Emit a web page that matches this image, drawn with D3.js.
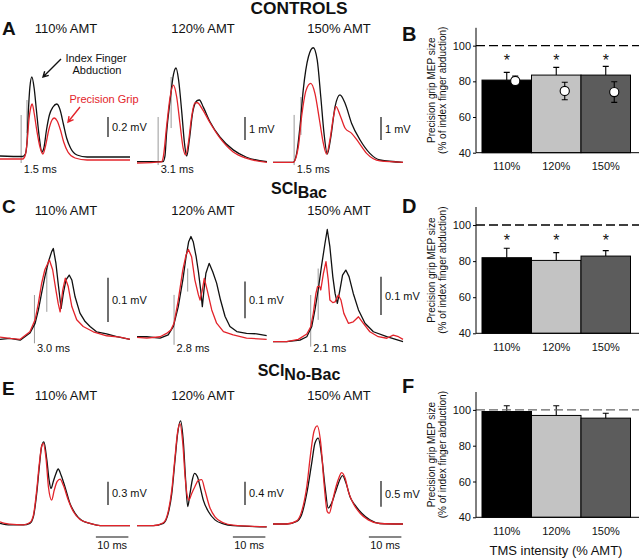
<!DOCTYPE html>
<html><head><meta charset="utf-8">
<script src="https://cdn.jsdelivr.net/npm/d3@7"></script>
<style>
body{margin:0;background:#fff}
svg{display:block}
text{font-family:"Liberation Sans",Arial,sans-serif;fill:#111}
</style>
</head><body><svg id="c" width="640" height="559"></svg>
<script>
// ---------------- DATA ----------------
const intensities = ["110%", "120%", "150%"];
const amtLabels = ["110% AMT", "120% AMT", "150% AMT"];
const groupTitles = [["CONTROLS", ""], ["SCI", "Bac"], ["SCI", "No-Bac"]];
const traceLetters = ["A", "C", "E"];
const barLetters = ["B", "D", "F"];
const scaleBarMV = [[0.2, 1, 1], [0.1, 0.1, 0.1], [0.3, 0.4, 0.5]];
const latencyLabels = [["1.5 ms", "3.1 ms", "1.5 ms"], ["3.0 ms", "2.8 ms", "2.1 ms"], null];
const timeBarMs = 10;
const yTicks = [40, 60, 80, 100];
const yLabel1 = "Precision grip MEP size";
const yLabel2 = "(% of index finger abduction)";
const xTitle = "TMS intensity (% AMT)";

// bar charts (% of index finger abduction)
const ctrlBars = [80.7, 83.5, 83.5], ctrlBarErr = [4.3, 4.3, 4.9];
const ctrlPoints = [80.2, 74.6, 74.0], ctrlPointErr = [2.7, 4.9, 5.8];
const bacBars = [81.9, 80.4, 82.8], bacBarErr = [5.2, 4.3, 3.0];
const noBacBars = [99.1, 96.9, 95.4], noBacBarErr = [3.2, 5.4, 2.7];
const significant = [[1, 1, 1], [1, 1, 1], [0, 0, 0]];

// MEP traces: [time ms, amplitude mV]
const ctrl110Index = [[0,.04],[7,.035],[7.8,.06],[8.3,.17],[8.7,.47],[9.2,.73],[9.8,.83],[10.5,.72],[11.2,.5],[12,.25],[12.9,.08],[13.5,.12],[14.3,.3],[15.2,.45],[16.3,.53],[17.5,.56],[18.5,.5],[19.5,.36],[20.5,.22],[21.7,.12],[23.7,.05],[26.8,.03],[40,.03]];
const ctrl110Grip = [[0,.01],[7,.01],[7.8,.05],[8.4,.2],[8.9,.4],[9.5,.53],[9.9,.56],[10.5,.47],[11.3,.3],[12.3,.13],[13.2,.06],[14,.14],[15,.3],[16,.4],[16.7,.42],[17.6,.39],[18.6,.3],[19.6,.18],[20.9,.08],[23.1,.02],[26.8,0],[40,0]];
const ctrl120Index = [[0,.06],[8,.06],[8.6,.3],[9.1,1.3],[10.2,2.74],[11.2,3.83],[12,4.13],[12.8,3.61],[13.8,2.17],[14.6,.87],[15.3,.3],[16.1,1],[17.1,2.17],[18.4,2.7],[19.2,2.74],[20.4,2.43],[22.5,1.78],[25.5,1.13],[29.6,.57],[33.7,.25],[40,.06]];
const ctrl120Grip = [[0,0],[7.5,.05],[8.1,.27],[9.1,1.58],[10.2,2.88],[11.2,3.39],[12.2,2.88],[13.2,1.74],[14.2,.65],[15,.35],[15.8,.87],[16.8,2],[17.8,2.61],[18.6,2.62],[19.9,2.39],[22.5,1.74],[25.5,1.09],[29.5,.49],[33.8,.2],[40,.03]];
const ctrl150Index = [[0,.03],[6.2,.03],[7.3,.43],[8.3,1.58],[9.3,3.17],[10.9,4.62],[12.4,5.01],[13.6,4.48],[14.7,2.88],[15.7,1.29],[16.7,.39],[17.8,1.14],[19.1,2.45],[20.6,2.96],[22.2,2.59],[24.2,1.72],[26.8,1],[29.8,.42],[32.9,.13],[40,.03]];
const ctrl150Grip = [[0,.03],[6.2,.03],[7.8,.71],[8.8,2.01],[10.2,3.17],[11.6,3.46],[12.9,3.03],[14.3,1.87],[15.5,.85],[16.5,.39],[17.5,.99],[18.6,2.01],[19.4,2.45],[20.6,2.09],[22.2,1.51],[24.2,1.29],[26.2,.93],[28.8,.42],[32.9,.09],[40,.03]];

const bac110Index = [[0,0],[3.1,.002],[6.2,-.002],[9.2,.014],[10.8,.036],[11.8,.066],[12.8,.104],[13.8,.141],[14.9,.175],[15.9,.198],[16.4,.205],[17.2,.172],[17.9,.126],[18.8,.07],[19.5,.104],[20.3,.134],[21.3,.145],[22.1,.134],[23.1,.096],[24.6,.059],[26.2,.04],[27.7,.029],[29.7,.017],[32.8,.012],[35.9,.006],[40,0]];
const bac110Grip = [[0,.005],[3.1,.002],[6.2,0],[9.2,.017],[10.8,.044],[11.8,.081],[12.8,.126],[13.8,.157],[15.2,.179],[16.2,.157],[17.2,.111],[17.9,.081],[18.5,.062],[19.3,.111],[20.1,.138],[21,.119],[22.1,.074],[23.6,.044],[25.6,.029],[28.7,.017],[32.8,.008],[36.9,.005],[40,0]];
const bac120Index = [[0,.007],[3,.007],[7.1,.003],[9.6,.012],[11.2,.035],[12.7,.089],[14.1,.162],[15.1,.225],[15.9,.266],[16.6,.28],[17.3,.266],[18.2,.225],[18.9,.184],[19.6,.134],[20.1,.089],[20.6,.134],[21.2,.18],[22.2,.207],[23.3,.184],[24.5,.153],[25.7,.107],[27.1,.062],[28.6,.035],[30.7,.021],[33.7,.016],[36.8,.015],[39.9,.01]];
const bac120Grip = [[0,.005],[3,.003],[7.1,.007],[9.1,.016],[10.4,.025],[11.4,.044],[12.7,.107],[14.1,.189],[15.1,.23],[15.8,.245],[16.8,.225],[17.8,.162],[18.9,.121],[19.4,.107],[20.1,.134],[20.7,.166],[21.6,.134],[23,.08],[24.5,.044],[26.6,.021],[29.6,.012],[33.7,.003],[39.9,0]];
const bac150Index = [[0,0],[4.2,0],[8.3,.004],[10.4,.013],[11.9,.039],[12.9,.083],[13.9,.135],[14.9,.196],[16,.257],[16.7,.293],[17.5,.248],[18.4,.17],[19.1,.126],[19.8,.1],[20.6,.135],[21.4,.174],[22.4,.187],[23.4,.17],[24.7,.126],[26.3,.083],[28.3,.048],[30.9,.026],[35,.013],[40,0]];
const bac150Grip = [[0,0],[4.2,0],[7.8,.006],[10.4,.02],[11.6,.039],[12.4,.074],[13.2,.126],[13.7,.144],[14.3,.145],[14.7,.135],[15.5,.178],[16.3,.209],[17,.161],[17.5,.109],[18.4,.102],[19.1,.104],[20.1,.122],[20.9,.109],[21.8,.074],[23.2,.048],[24.7,.052],[26.3,.065],[27.8,.048],[29.8,.026],[32.4,.013],[35,.009],[37,.017],[38.6,.013],[40,.006]];

const noBac110Index = [[0,.03],[3.1,.01],[7.2,.01],[9.2,.03],[10.3,.12],[11.3,.42],[12.1,.76],[12.8,1.02],[13.5,1.08],[14.4,.85],[15.1,.59],[15.7,.48],[16.4,.57],[17.2,.67],[17.9,.73],[18.8,.65],[20,.5],[21.5,.29],[23.1,.16],[25.1,.07],[27.7,.03],[30.8,0],[40,0]];
const noBac110Grip = [[0,.05],[1.5,.03],[3.1,.02],[7.2,.01],[9.2,.04],[10.3,.14],[11.3,.46],[12.1,.8],[12.8,1.02],[13.3,1.06],[14.2,.85],[14.9,.5],[15.9,.33],[16.7,.46],[17.6,.57],[18.5,.6],[19.5,.52],[21,.33],[22.6,.18],[24.6,.08],[27.7,.03],[30.8,0],[40,0]];
const noBac120Index = [[0,0],[5,0],[8.1,.04],[9.6,.21],[10.7,.55],[11.7,1.13],[12.5,1.58],[13.4,1.8],[14.3,1.41],[14.9,.84],[15.6,.33],[16.3,.55],[17,.78],[17.7,.9],[18.6,.84],[19.4,.67],[20.4,.44],[22,.24],[24,.1],[26.6,.03],[29.6,0],[39.9,-.02]];
const noBac120Grip = [[0,0],[5,0],[8.1,.05],[9.6,.24],[10.7,.61],[11.7,1.18],[12.5,1.61],[13.2,1.75],[14.1,1.41],[14.8,.84],[15.5,.5],[16,.44],[16.8,.55],[17.8,.67],[18.9,.78],[19.9,.79],[20.9,.61],[22.3,.33],[24,.15],[26.6,.05],[29.6,.01],[39.9,-.02]];
const noBac150Index = [[0,0],[4.2,0],[7.3,.05],[8.8,.18],[10.4,.6],[11.9,1.18],[12.9,1.57],[13.9,1.67],[15,1.31],[16,.73],[17,.31],[18,.4],[19.1,.6],[20.1,.79],[21.4,.94],[22.5,.79],[23.7,.53],[25.2,.37],[27.3,.21],[29.8,.08],[32.9,.01],[40,0]];
const noBac150Grip = [[0,0],[4.2,0],[7.3,.06],[8.8,.24],[10.4,.73],[11.6,1.38],[12.6,1.8],[13.6,1.91],[14.7,1.57],[15.7,.79],[16.7,.24],[17.3,.21],[18.4,.47],[19.4,.73],[20.4,.92],[21.1,1],[22.2,.89],[23.2,.63],[24.7,.4],[26.8,.21],[29.3,.08],[32.9,.01],[40,0]];

// latency markers: [time ms, top mV, bottom mV]
const ctrlMarkers = [[[6.5,.45,-.03],[8.3,.6,.27]], [[6.5,2.0,-.09],[10.5,3.74,1.52]], [[6.5,2.09,-.09],[8.6,2.87,1.22]]];
const bacMarkers = [[[10.6,.1,-.009],[14.4,.16,.062]], [[11.4,.121,-.015],[15.6,.193,.13]], [[11.6,.122,-.013],[13.9,.191,.057]]];

// ---------------- LAYOUT ----------------
const svg = d3.select("#c");
const RED = "#e3242b";
const colX0 = [0, 137, 273], colW = 130, tDomain = [0, 40];
const rowsLayout = [
  {baseline:[160,163,163], barPx:[20,23,23], barBottom:[137,140,140], amtY:33, latY:173, letterY:35, titleY:13.5},
  {baseline:[339.3,339.3,341.7], barPx:[44.3,36.7,38.3], barBottom:[322,318.3,315], amtY:215, latY:352, letterY:213, titleY:193.5},
  {baseline:[525.7,525.7,524], barPx:[23.3,23.3,25.7], barBottom:[505,505,506.7], amtY:400, latY:null, letterY:395, titleY:375.5}
];
const traceData = [
  [[ctrl110Index, ctrl110Grip], [ctrl120Index, ctrl120Grip], [ctrl150Index, ctrl150Grip]],
  [[bac110Index, bac110Grip], [bac120Index, bac120Grip], [bac150Index, bac150Grip]],
  [[noBac110Index, noBac110Grip], [noBac120Index, noBac120Grip], [noBac150Index, noBac150Grip]]
];
const markerData = [ctrlMarkers, bacMarkers, null];

traceData.forEach((row, r) => {
  const L = rowsLayout[r];
  // panel letter
  svg.append("text").attr("x", 2).attr("y", L.letterY).attr("font-size", 19).attr("font-weight", "bold").text(traceLetters[r]);
  // group title
  const tt = svg.append("text").attr("x", 299).attr("y", L.titleY).attr("text-anchor", "middle")
    .attr("font-size", 16).attr("font-weight", "bold");
  tt.append("tspan").text(groupTitles[r][0]);
  if (groupTitles[r][1]) tt.append("tspan").attr("dy", 4).text(groupTitles[r][1]);
  if (r === 0) tt.attr("textLength", 97).attr("lengthAdjust", "spacingAndGlyphs");

  row.forEach((pair, c) => {
    const x = d3.scaleLinear().domain(tDomain).range([colX0[c], colX0[c] + colW]);
    const base = L.baseline[c];
    const y = d3.scaleLinear().domain([0, scaleBarMV[r][c]]).range([base, base - L.barPx[c]]);
    // AMT label
    svg.append("text").attr("x", colX0[c] + 66).attr("y", L.amtY).attr("text-anchor", "middle")
      .attr("font-size", 13).text(amtLabels[c]);
    // markers
    if (markerData[r]) {
      markerData[r][c].forEach(m => {
        svg.append("line").attr("x1", x(m[0])).attr("x2", x(m[0])).attr("y1", y(m[1])).attr("y2", y(m[2]))
          .attr("stroke", "#9a9a9a").attr("stroke-width", 1);
      });
      svg.append("text").attr("x", x(markerData[r][c][0][0]) + 2.5).attr("y", L.latY)
        .attr("font-size", 11).text(latencyLabels[r][c]);
    }
    const line = d3.line().x(d => x(d[0])).y(d => y(d[1]))
      .curve(r === 1 ? d3.curveLinear : d3.curveMonotoneX);
    svg.append("path").datum(pair[0]).attr("d", line).attr("fill", "none").attr("stroke", "#111").attr("stroke-width", 1.3).attr("stroke-linejoin", "round");
    svg.append("path").datum(pair[1]).attr("d", line).attr("fill", "none").attr("stroke", RED).attr("stroke-width", 1.3).attr("stroke-linejoin", "round");
    // amplitude scale bar
    const sbx = colX0[c] + 108;
    const len = y(0) - y(scaleBarMV[r][c]);
    const yb = L.barBottom[c];
    svg.append("line").attr("x1", sbx).attr("x2", sbx).attr("y1", yb).attr("y2", yb - len).attr("stroke", "#111").attr("stroke-width", 1.2);
    svg.append("text").attr("x", sbx + 4).attr("y", yb - len / 2 + 4).attr("font-size", 11).text(scaleBarMV[r][c] + " mV");
    // time bar on last row
    if (r === 2) {
      svg.append("line").attr("x1", x(29.5)).attr("x2", x(29.5 + timeBarMs)).attr("y1", 537).attr("y2", 537).attr("stroke", "#111").attr("stroke-width", 1.2);
      svg.append("text").attr("x", x(29.5 + timeBarMs / 2)).attr("y", 549).attr("text-anchor", "middle").attr("font-size", 11).text(timeBarMs + " ms");
    }
  });
});

// annotations in A
svg.append("text").attr("x", 96).attr("y", 61.5).attr("text-anchor", "middle").attr("font-size", 11).text("Index Finger");
svg.append("text").attr("x", 97).attr("y", 73.5).attr("text-anchor", "middle").attr("font-size", 11).text("Abduction");
svg.append("text").attr("x", 104).attr("y", 102.5).attr("text-anchor", "middle").attr("font-size", 11).style("fill", RED).text("Precision Grip");
function arrow(x1, y1, x2, y2, col) {
  const a = Math.atan2(y2 - y1, x2 - x1), h = 6, s = 0.5;
  svg.append("path").attr("d",
    `M${x1},${y1}L${x2},${y2}M${x2 - h * Math.cos(a - s)},${y2 - h * Math.sin(a - s)}L${x2},${y2}L${x2 - h * Math.cos(a + s)},${y2 - h * Math.sin(a + s)}`)
    .attr("fill", "none").attr("stroke", col).attr("stroke-width", 1.4);
}
arrow(61, 59, 43, 77, "#111");
arrow(80, 107, 68, 122, RED);

// ---------------- BAR CHARTS ----------------
const barPanels = [
  {bars: ctrlBars, err: ctrlBarErr, pts: ctrlPoints, ptErr: ctrlPointErr, yr: [152.7, 27.8], letterY: 40.7, dash: "#000"},
  {bars: bacBars, err: bacBarErr, pts: null, yr: [333.3, 207], letterY: 213, dash: "#000"},
  {bars: noBacBars, err: noBacBarErr, pts: null, yr: [517.3, 392], letterY: 393, dash: "#666"}
];
const barFill = ["#000", "#c3c3c3", "#5c5c5c"];
const axX = 476, axEnd = 639;
const xb = d3.scaleBand().domain(intensities).range([482, 630.5]).paddingInner(0);

barPanels.forEach((P, i) => {
  const y = d3.scaleLinear().domain([40, 110]).range(P.yr);
  svg.append("text").attr("x", 402).attr("y", P.letterY).attr("font-size", 20).attr("font-weight", "bold").text(barLetters[i]);
  // bars
  svg.selectAll(null).data(P.bars).enter().append("rect")
    .attr("x", (d, k) => xb(intensities[k])).attr("width", xb.bandwidth())
    .attr("y", d => y(d)).attr("height", d => y(40) - y(d))
    .attr("fill", (d, k) => barFill[k]).attr("stroke", "#000").attr("stroke-width", 1);
  // bar error bars (upper)
  P.bars.forEach((v, k) => {
    const cx = xb(intensities[k]) + xb.bandwidth() / 2;
    const top = y(v + P.err[k]);
    svg.append("path").attr("d", `M${cx},${y(v)}V${top}M${cx - 3},${top}H${cx + 3}`).attr("stroke", "#000").attr("stroke-width", 1.1).attr("fill", "none");
    if (significant[i][k]) {
      svg.append("text").attr("x", cx).attr("y", y(93.5) + 9).attr("text-anchor", "middle").attr("font-size", 16).text("*");
    }
  });
  // points with error
  if (P.pts) {
    P.pts.forEach((v, k) => {
      const cx = xb(intensities[k]) + xb.bandwidth() / 2 + 8.5;
      const lo = y(v - P.ptErr[k]), hi = y(v + P.ptErr[k]);
      svg.append("path").attr("d", `M${cx},${lo}V${hi}M${cx - 3},${lo}H${cx + 3}M${cx - 3},${hi}H${cx + 3}`).attr("stroke", "#000").attr("stroke-width", 1.1).attr("fill", "none");
      svg.append("circle").attr("cx", cx).attr("cy", y(v)).attr("r", 4.6).attr("fill", "#fff").attr("stroke", "#000").attr("stroke-width", 1.1);
    });
  }
  // dashed 100% line
  svg.append("line").attr("x1", axX).attr("x2", axEnd).attr("y1", y(100)).attr("y2", y(100))
    .attr("stroke", P.dash).attr("stroke-width", 1.4).attr("stroke-dasharray", "9,4");
  // axes
  const ya = d3.axisLeft(y).tickValues(yTicks).tickSize(3).tickPadding(2);
  const g = svg.append("g").attr("transform", `translate(${axX},0)`).call(ya);
  g.select(".domain").attr("d", `M0,${y(110)}V${y(40)}`).attr("stroke", "#000");
  g.selectAll("text").attr("font-size", 11).attr("font-family", '"Liberation Sans",Arial,sans-serif').style("fill", "#111");
  svg.append("line").attr("x1", axX).attr("x2", axEnd).attr("y1", y(40)).attr("y2", y(40)).attr("stroke", "#000");
  intensities.forEach(lbl => {
    svg.append("text").attr("x", xb(lbl) + xb.bandwidth() / 2).attr("y", y(40) + 17.5).attr("text-anchor", "middle").attr("font-size", 11).text(lbl);
  });
  // y label
  const cy = (P.yr[0] + P.yr[1]) / 2;
  svg.append("text").attr("transform", `translate(435,${cy}) rotate(-90)`).attr("text-anchor", "middle").attr("font-size", 10).text(yLabel1);
  svg.append("text").attr("transform", `translate(446,${cy}) rotate(-90)`).attr("text-anchor", "middle").attr("font-size", 10).text(yLabel2);
});
svg.append("text").attr("x", 556).attr("y", 555).attr("text-anchor", "middle").attr("font-size", 13).text(xTitle);
</script></body></html>
